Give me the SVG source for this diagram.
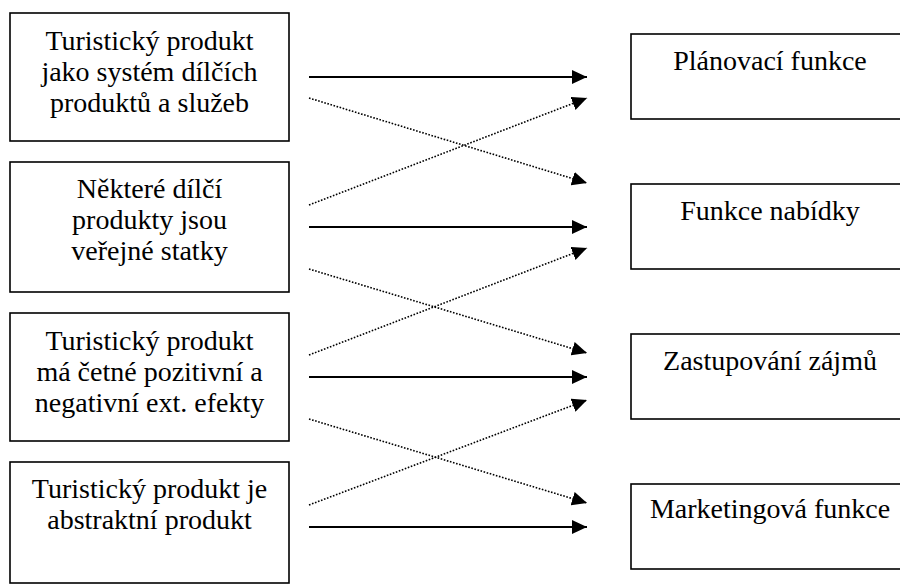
<svg xmlns="http://www.w3.org/2000/svg" width="900" height="586" viewBox="0 0 900 586">
<defs>
<marker id="ah" markerUnits="userSpaceOnUse" markerWidth="15" markerHeight="14" refX="15" refY="7" orient="auto" viewBox="0 0 15 14">
<path d="M0,0 L15,7 L0,14 z" fill="#000"/>
</marker>
</defs>
<rect width="900" height="586" fill="#fff"/>
<g id="l1">
<rect x="10" y="13" width="279" height="128" fill="#fff" stroke="#000" stroke-width="1.6"/>
<text x="149.5" y="50" font-family="Times New Roman" font-size="28" text-anchor="middle">Turistický produkt</text>
<text x="149.5" y="81" font-family="Times New Roman" font-size="28" text-anchor="middle">jako systém dílčích</text>
<text x="149.5" y="112" font-family="Times New Roman" font-size="28" text-anchor="middle">produktů a služeb</text>
</g>
<g id="l2">
<rect x="10" y="162" width="279" height="130" fill="#fff" stroke="#000" stroke-width="1.6"/>
<text x="149.5" y="198" font-family="Times New Roman" font-size="28" text-anchor="middle">Některé dílčí</text>
<text x="149.5" y="229" font-family="Times New Roman" font-size="28" text-anchor="middle">produkty jsou</text>
<text x="149.5" y="260" font-family="Times New Roman" font-size="28" text-anchor="middle">veřejné statky</text>
</g>
<g id="l3">
<rect x="10" y="313" width="279" height="128" fill="#fff" stroke="#000" stroke-width="1.6"/>
<text x="149.5" y="350" font-family="Times New Roman" font-size="28" text-anchor="middle">Turistický produkt</text>
<text x="149.5" y="381" font-family="Times New Roman" font-size="28" text-anchor="middle">má četné pozitivní a</text>
<text x="149.5" y="412" font-family="Times New Roman" font-size="28" text-anchor="middle">negativní ext. efekty</text>
</g>
<g id="l4">
<rect x="10" y="462" width="279" height="121" fill="#fff" stroke="#000" stroke-width="1.6"/>
<text x="149.5" y="498" font-family="Times New Roman" font-size="28" text-anchor="middle">Turistický produkt je</text>
<text x="149.5" y="529" font-family="Times New Roman" font-size="28" text-anchor="middle">abstraktní produkt</text>
</g>
<g id="r1">
<rect x="631" y="34" width="278" height="85" fill="#fff" stroke="#000" stroke-width="1.6"/>
<text x="770" y="70" font-family="Times New Roman" font-size="28" text-anchor="middle">Plánovací funkce</text>
</g>
<g id="r2">
<rect x="631" y="184" width="278" height="85" fill="#fff" stroke="#000" stroke-width="1.6"/>
<text x="770" y="220" font-family="Times New Roman" font-size="28" text-anchor="middle">Funkce nabídky</text>
</g>
<g id="r3">
<rect x="631" y="334" width="278" height="85" fill="#fff" stroke="#000" stroke-width="1.6"/>
<text x="770" y="370" font-family="Times New Roman" font-size="28" text-anchor="middle">Zastupování zájmů</text>
</g>
<g id="r4">
<rect x="631" y="484" width="278" height="85" fill="#fff" stroke="#000" stroke-width="1.6"/>
<text x="770" y="518" font-family="Times New Roman" font-size="28" text-anchor="middle">Marketingová funkce</text>
</g>
<g id="connectors" stroke="#000" fill="none" marker-end="url(#ah)">
<g stroke-width="2">
<line x1="309" y1="77" x2="587" y2="77"/>
<line x1="309" y1="227" x2="587" y2="227"/>
<line x1="309" y1="377" x2="587" y2="377"/>
<line x1="309" y1="527" x2="587" y2="527"/>
</g>
<g stroke-width="1.6" stroke-dasharray="1.6 1.6">
<line x1="309" y1="98" x2="587" y2="183"/>
<line x1="309" y1="205" x2="587" y2="98"/>
<line x1="309" y1="269" x2="587" y2="353"/>
<line x1="309" y1="355" x2="587" y2="248"/>
<line x1="309" y1="419" x2="587" y2="503"/>
<line x1="309" y1="505" x2="587" y2="400"/>
</g>
</g>
</svg>
